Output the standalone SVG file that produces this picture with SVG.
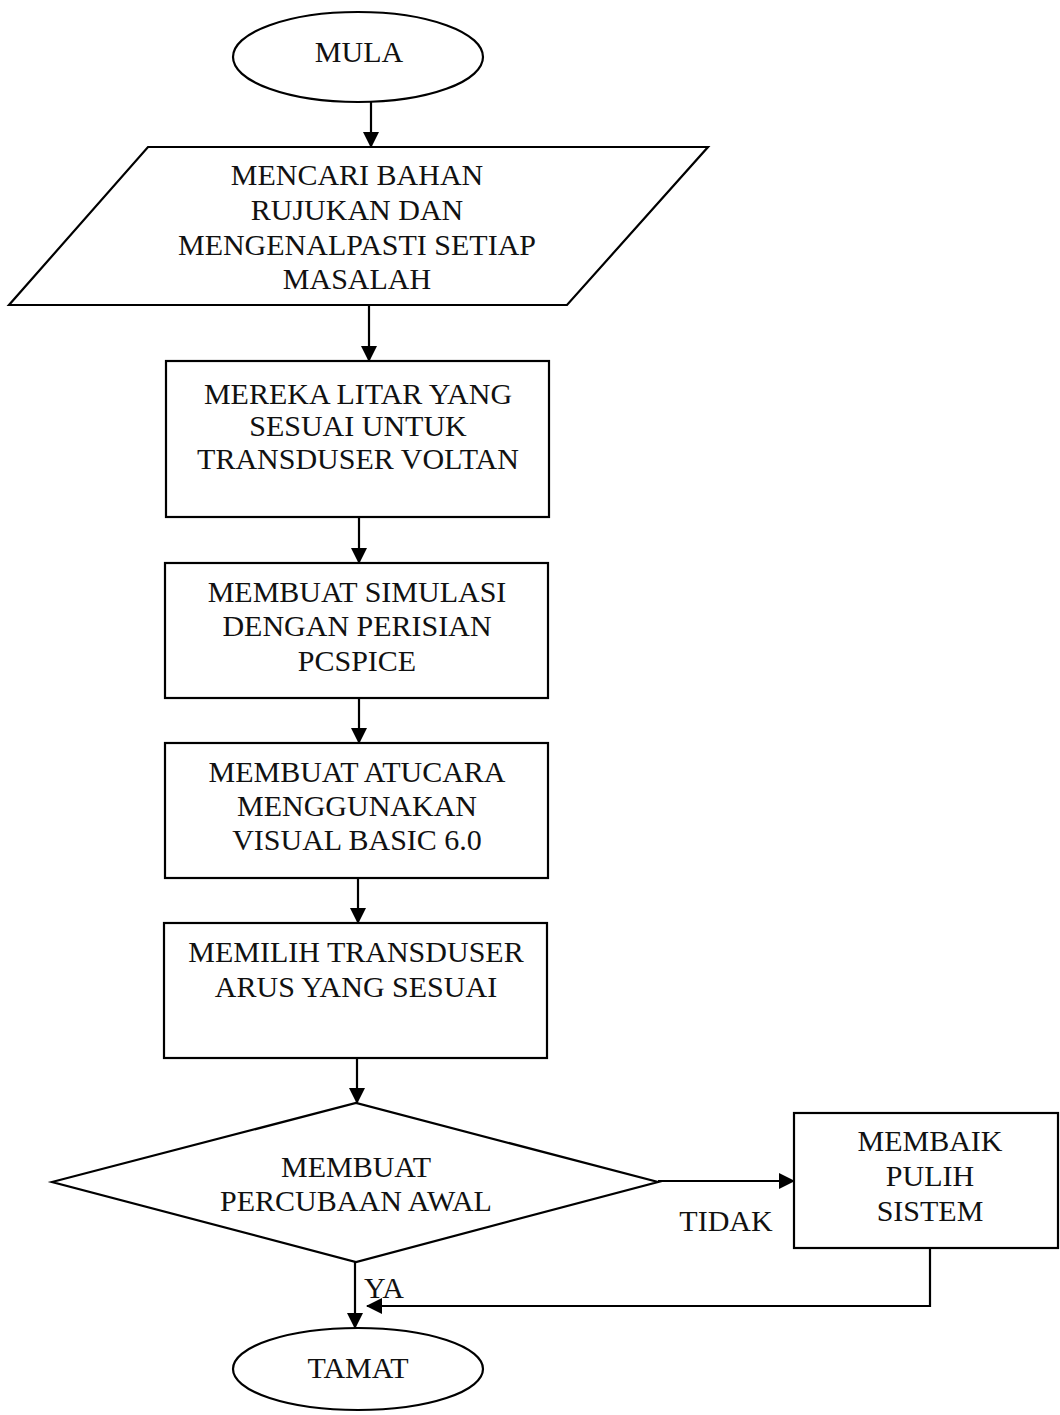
<svg xmlns="http://www.w3.org/2000/svg" width="1060" height="1415" viewBox="0 0 1060 1415">
<defs>
<marker id="arr" markerUnits="userSpaceOnUse" markerWidth="16" markerHeight="16" viewBox="0 0 16 16" refX="15" refY="8" orient="auto">
<path d="M0,0 L16,8 L0,16 Z" fill="#000"/>
</marker>
<style>
.s{fill:#fff;stroke:#000;stroke-width:2.2}
.c{fill:none;stroke:#000;stroke-width:2.2;marker-end:url(#arr)}
.l{fill:none;stroke:#000;stroke-width:2.2}
text{font-family:"Liberation Serif","Times New Roman",serif;font-size:30px;fill:#111;text-anchor:middle}
</style>
</defs>
<rect width="1060" height="1415" fill="#fff"/>
<g id="connectors">
<path class="c" d="M371,102 V147"/>
<path class="c" d="M369,305 V361"/>
<path class="c" d="M359,517 V563"/>
<path class="c" d="M359,698 V743"/>
<path class="c" d="M358,878 V923"/>
<path class="c" d="M357,1058 V1103"/>
<path class="c" d="M658,1181 H794"/>
<path class="c" d="M355,1262 V1328"/>
<path class="c" d="M930,1248 V1306 H367"/>
<text x="726" y="1231">TIDAK</text>
<text x="384" y="1298">YA</text>
</g>
<g id="mula">
<ellipse class="s" cx="358" cy="57" rx="125" ry="45"/>
<text x="359" y="62">MULA</text>
</g>
<g id="mencari">
<polygon class="s" points="148,147 708,147 567,305 9,305"/>
<text x="357" y="185">MENCARI BAHAN</text>
<text x="357" y="220">RUJUKAN DAN</text>
<text x="357" y="255">MENGENALPASTI SETIAP</text>
<text x="357" y="289">MASALAH</text>
</g>
<g id="mereka">
<rect class="s" x="166" y="361" width="383" height="156"/>
<text x="358" y="404">MEREKA LITAR YANG</text>
<text x="358" y="436">SESUAI UNTUK</text>
<text x="358" y="469">TRANSDUSER VOLTAN</text>
</g>
<g id="simulasi">
<rect class="s" x="165" y="563" width="383" height="135"/>
<text x="357" y="602">MEMBUAT SIMULASI</text>
<text x="357" y="636">DENGAN PERISIAN</text>
<text x="357" y="671">PCSPICE</text>
</g>
<g id="atucara">
<rect class="s" x="165" y="743" width="383" height="135"/>
<text x="357" y="782">MEMBUAT ATUCARA</text>
<text x="357" y="816">MENGGUNAKAN</text>
<text x="357" y="850">VISUAL BASIC 6.0</text>
</g>
<g id="memilih">
<rect class="s" x="164" y="923" width="383" height="135"/>
<text x="356" y="962">MEMILIH TRANSDUSER</text>
<text x="356" y="997">ARUS YANG SESUAI</text>
</g>
<g id="percubaan">
<polygon class="s" points="52,1182 356,1103 658,1182 356,1262"/>
<text x="356" y="1177">MEMBUAT</text>
<text x="356" y="1211">PERCUBAAN AWAL</text>
</g>
<g id="membaik">
<rect class="s" x="794" y="1113" width="264" height="135"/>
<text x="930" y="1151">MEMBAIK</text>
<text x="930" y="1186">PULIH</text>
<text x="930" y="1221">SISTEM</text>
</g>
<g id="tamat">
<ellipse class="s" cx="358" cy="1369" rx="125" ry="41"/>
<text x="358" y="1378">TAMAT</text>
</g>
</svg>
